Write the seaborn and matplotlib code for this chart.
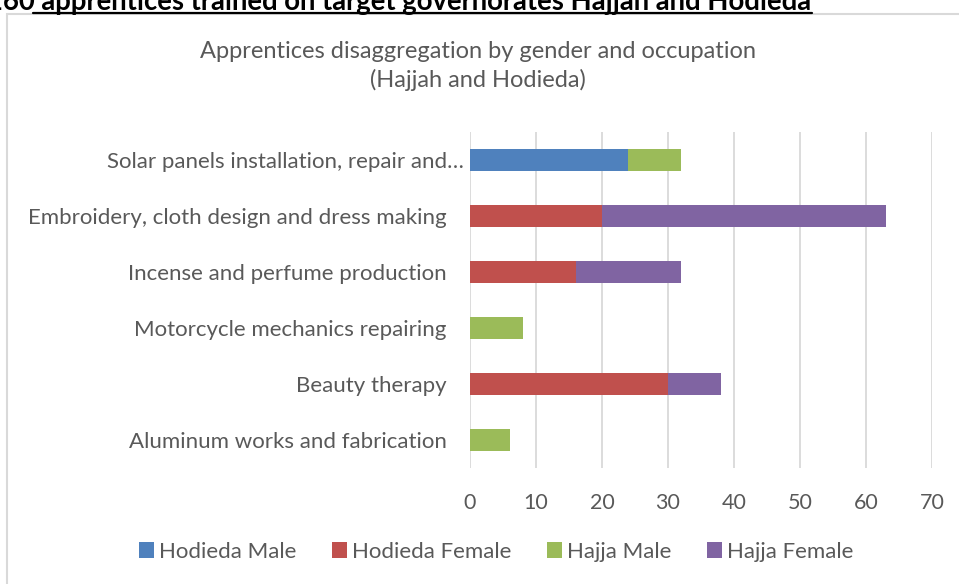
import pandas as pd
import matplotlib
matplotlib.use("Agg")
import matplotlib.pyplot as plt
import matplotlib.transforms as mtransforms
from matplotlib.patches import Rectangle, Patch
from matplotlib.lines import Line2D
import seaborn as sns

# Data
occupations = [
    "Solar panels installation, repair and…",
    "Embroidery, cloth design and dress making",
    "Incense and perfume production",
    "Motorcycle mechanics repairing",
    "Beauty therapy",
    "Aluminum works and fabrication",
]
hodieda_male = [24, 0, 0, 0, 0, 0]
hodieda_female = [0, 20, 16, 0, 30, 0]
hajja_male = [8, 0, 0, 8, 0, 6]
hajja_female = [0, 43, 16, 0, 8, 0]

series_names = ["Hodieda Male", "Hodieda Female", "Hajja Male", "Hajja Female"]
series_colors = ["#4F81BD", "#C0504D", "#9BBB59", "#8064A2"]
x_ticks = [0, 10, 20, 30, 40, 50, 60, 70]

TEXT = "#595959"
GRID = "#D9D9D9"

sns.set_style("white")
plt.rcParams["font.family"] = ["Lato", "DejaVu Sans"]

df = pd.DataFrame({
    "Occupation": occupations,
    "Hodieda Male": hodieda_male,
    "Hodieda Female": hodieda_female,
    "Hajja Male": hajja_male,
    "Hajja Female": hajja_female,
})
# cumulative totals so the bars can be drawn back-to-front as a stack
cum = df[series_names].cumsum(axis=1)
cum["Occupation"] = df["Occupation"]

W, H = 959, 584
fig = plt.figure(figsize=(W / 100, H / 100), dpi=100)

# chart area border (Excel style), partly off-canvas
fig.patches.append(Rectangle((7 / W, -0.1), 1.2, 1 - 14 / H + 0.1,
                             transform=fig.transFigure, fill=False,
                             edgecolor=GRID, linewidth=1.5, zorder=0))

ax = fig.add_axes([470 / W, 1 - 468 / H, (932 - 470) / W, (468 - 132) / H])

for name, color in reversed(list(zip(series_names, series_colors))):
    sns.barplot(data=cum, x=name, y="Occupation", order=occupations,
                color=color, saturation=1, width=0.4, errorbar=None,
                linewidth=0, ax=ax)

ax.set_xlim(0, 70)
ax.set_xticks(x_ticks)
ax.set_xlabel("")
ax.set_ylabel("")
ax.grid(axis="x", color=GRID, linewidth=1.3)
ax.grid(axis="y", visible=False)
ax.set_axisbelow(True)
for s in ax.spines.values():
    s.set_visible(False)
ax.tick_params(axis="y", length=0, pad=17, labelsize=16, labelcolor=TEXT)
ax.tick_params(axis="x", length=0, pad=18, labelsize=15.5, labelcolor=TEXT)

# Excel placed the truncated first label a bit further right
first = ax.get_yticklabels()[0]
first.set_transform(first.get_transform() +
                    mtransforms.ScaledTranslation(17 / 100, 0, fig.dpi_scale_trans))

# chart title
fig.text(478 / W, 1 - 58 / H, "Apprentices disaggregation by gender and occupation",
         ha="center", va="baseline", fontsize=17, color=TEXT)
fig.text(478 / W, 1 - 87 / H, "(Hajjah and Hodieda)",
         ha="center", va="baseline", fontsize=17, color=TEXT)

# document heading cut off at the top of the screenshot
fig.text(811 / W, 1 - 10 / H,
         "160 apprentices trained on target governorates Hajjah and Hodieda",
         ha="right", va="baseline", fontsize=19.8, fontweight="bold", color="black")
fig.lines.append(Line2D([33 / W, 812 / W], [1 - 12.5 / H, 1 - 12.5 / H],
                        transform=fig.transFigure, color="black", linewidth=1.6))

handles = [Patch(facecolor=c, edgecolor="none") for c in series_colors]
fig.legend(handles, series_names, loc="center", bbox_to_anchor=(496 / W, 1 - 552 / H),
           ncol=4, frameon=False, fontsize=16, labelcolor=TEXT,
           handlelength=0.7, handleheight=0.7, handletextpad=0.2,
           columnspacing=1.6)

fig.savefig("out.png", dpi=100)
